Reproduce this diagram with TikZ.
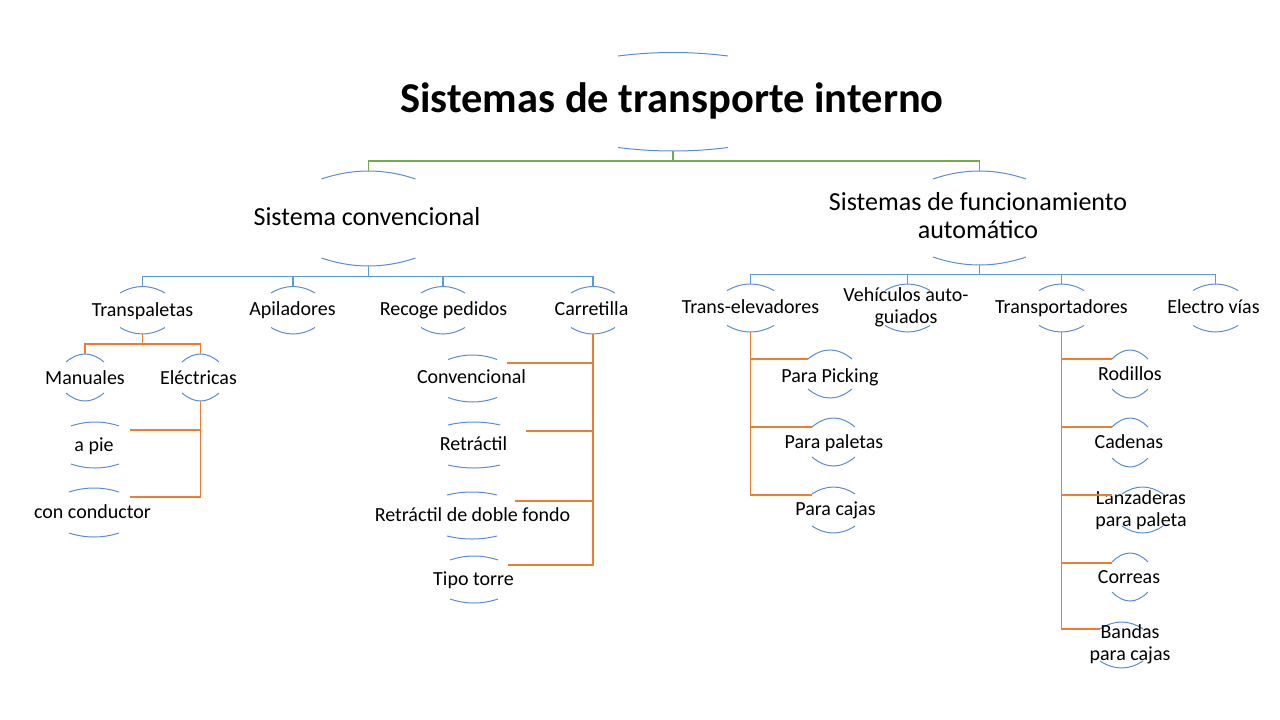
\documentclass[tikz,border=0pt]{standalone}
\usepackage{fontspec}
\setmainfont{Carlito}
\usepackage{tikz}
\usetikzlibrary{calc}
\definecolor{arcblue}{RGB}{91,140,210}
\definecolor{linkblue}{RGB}{91,155,213}
\definecolor{linkgreen}{RGB}{112,173,71}
\definecolor{linkorange}{RGB}{237,125,49}
\tikzset{
  ring/.style={arcblue, line width=1pt},
  lab/.style={inner sep=0pt, anchor=base, align=center, text=black},
  toplab/.style={lab, font=\fontsize{42.5}{50}\selectfont\bfseries},
  sublab/.style={lab, font=\fontsize{26}{28}\selectfont},
  itemlab/.style={lab, font=\fontsize{20}{22}\selectfont},
  greenlink/.style={linkgreen, line width=1.2pt},
  bluelink/.style={linkblue, line width=1.2pt},
  orangelink/.style={linkorange, line width=1.2pt},
}
% top and bottom arcs of one item: name, x, top y, bottom y, half width, sag
\newcommand{\ringarcs}[6]{%
  \coordinate (#1-t) at (#2,#3);
  \coordinate (#1-b) at (#2,#4);
  \draw[ring] ($(#1-t)+(-#5,#6)$) .. controls +({2*#5/3},{-4*#6/3}) and +({-2*#5/3},{-4*#6/3}) .. ($(#1-t)+(#5,#6)$);
  \draw[ring] ($(#1-b)+(-#5,-#6)$) .. controls +({2*#5/3},{4*#6/3}) and +({-2*#5/3},{4*#6/3}) .. ($(#1-b)+(#5,-#6)$);
}

\begin{document}
\begin{tikzpicture}[x=1pt, y=-1pt]
  \useasboundingbox[fill=white] (0,0) rectangle (1280,720);

  % ===== root =====
  \ringarcs{root}{673}{52.5}{151}{55}{3.5}
  \node[toplab] (root) at (672,112) {Sistemas de transporte interno};

  % ===== level 1 =====
  \ringarcs{conv}{368.5}{171}{266}{47}{8}
  \node[sublab] (conv) at (367,225) {Sistema convencional};
  \ringarcs{auto}{979.5}{171}{265}{46.5}{8}
  \node[sublab] (auto) at (978,238) {Sistemas de funcionamiento\\automático};

  \draw[greenlink] (root-b) -- ++(0,10) -| (conv-t);
  \draw[greenlink] (root-b) -- ++(0,10) -| (auto-t);

  % ===== level 2: convencional =====
  \ringarcs{transp}{142.5}{286.5}{334}{22.5}{6.5}
  \node[itemlab] (transp) at (142.5,316) {Transpaletas};
  \ringarcs{apil}{293}{286.5}{334}{22}{6.5}
  \node[itemlab] (apil) at (292.5,315) {Apiladores};
  \ringarcs{recoge}{443}{286.5}{334}{22}{6.5}
  \node[itemlab] (recoge) at (443.5,315) {Recoge pedidos};
  \ringarcs{carret}{593}{286.5}{334}{22}{6.5}
  \node[itemlab] (carret) at (591.5,315) {Carretilla};

  \foreach \kid in {transp,apil,recoge,carret}
    \draw[bluelink] (conv-b) -- ++(0,10.5) -| (\kid-t);

  % ===== level 2: automatico =====
  \ringarcs{transel}{750.5}{284}{332}{23.5}{6.5}
  \node[itemlab] (transel) at (750.5,313) {Trans-elevadores};
  \ringarcs{vehic}{907.5}{284}{332}{22.5}{6.5}
  \node[itemlab] (vehic) at (906,323) {Vehículos auto-\\guiados};
  \ringarcs{transpo}{1061.5}{284}{332}{22.5}{6.5}
  \node[itemlab] (transpo) at (1061.5,313) {Transportadores};
  \ringarcs{electro}{1215.5}{284}{332}{22.5}{6.5}
  \node[itemlab] (electro) at (1213.5,313) {Electro vías};

  \foreach \kid in {transel,vehic,transpo,electro}
    \draw[bluelink] (auto-b) -- ++(0,9.5) -| (\kid-t);

  % ===== transpaletas =====
  \ringarcs{manual}{85}{354}{401}{19}{8}
  \node[itemlab] (manual) at (85,384) {Manuales};
  \ringarcs{electr}{200.5}{354}{401}{18.5}{8}
  \node[itemlab] (electr) at (198.5,384) {Eléctricas};
  \draw[orangelink] (transp-b) -- ++(0,10) -| (manual-t);
  \draw[orangelink] (transp-b) -- ++(0,10) -| (electr-t);

  \ringarcs{apie}{95}{422}{468}{24}{4}
  \node[itemlab] (apie) at (94,451) {a pie};
  \ringarcs{cond}{94}{488}{537}{25}{4}
  \node[itemlab] (cond) at (92.5,518) {con conductor};
  \coordinate (apie-e) at (130,430);
  \coordinate (cond-e) at (130,497);
  \draw[orangelink] (electr-b) |- (apie-e);
  \draw[orangelink] (electr-b) |- (cond-e);

  % ===== carretilla =====
  \ringarcs{cconv}{472.5}{355}{402}{24.5}{4.5}
  \node[itemlab] (cconv) at (471.5,383) {Convencional};
  \ringarcs{retr}{474}{422}{468}{26}{3}
  \node[itemlab] (retr) at (473.5,450) {Retráctil};
  \ringarcs{doble}{472}{492}{539}{25}{3}
  \node[itemlab] (doble) at (472.5,521) {Retráctil de doble fondo};
  \ringarcs{torre}{474}{556}{603}{24}{4}
  \node[itemlab] (torre) at (473.5,585) {Tipo torre};
  \coordinate (cconv-e) at (507,363);
  \coordinate (retr-e) at (526,431);
  \coordinate (doble-e) at (515,501);
  \coordinate (torre-e) at (508,565);
  \foreach \kid in {cconv,retr,doble,torre}
    \draw[orangelink] (carret-b) |- (\kid-e);

  % ===== trans-elevadores =====
  \ringarcs{pick}{830}{350}{398}{22}{9}
  \node[itemlab] (pick) at (830,382) {Para Picking};
  \ringarcs{palet}{833.5}{418}{466}{21.5}{9}
  \node[itemlab] (palet) at (834,448) {Para paletas};
  \ringarcs{cajas}{833.5}{487}{533}{21.5}{7}
  \node[itemlab] (cajas) at (835.5,515) {Para cajas};
  \coordinate (pick-w) at (808,359);
  \coordinate (palet-w) at (812,427);
  \coordinate (cajas-w) at (812,495);
  \foreach \kid in {pick,palet,cajas}
    \draw[orangelink] (transel-b) |- (\kid-w);

  % ===== transportadores =====
  \ringarcs{rod}{1130}{350}{398}{18}{9}
  \node[itemlab] (rod) at (1130,380) {Rodillos};
  \ringarcs{cad}{1130}{418}{467}{18}{9}
  \node[itemlab] (cad) at (1129,448) {Cadenas};
  \ringarcs{lanz}{1142.5}{487}{533}{20.5}{7}
  \node[itemlab] (lanz) at (1141,526) {Lanzaderas\\para paleta};
  \ringarcs{corr}{1130}{553}{601}{18}{9}
  \node[itemlab] (corr) at (1129,583) {Correas};
  \ringarcs{band}{1121.5}{622}{668}{21.5}{7}
  \node[itemlab] (band) at (1130,660) {Bandas\\para cajas};
  \coordinate (rod-w) at (1112,359);
  \coordinate (cad-w) at (1112,427);
  \coordinate (lanz-w) at (1112,495);
  \coordinate (corr-w) at (1112,563);
  \coordinate (band-w) at (1100,629);
  \foreach \kid in {rod,cad,lanz,corr,band}
    \draw[orangelink] (transpo-b) |- (\kid-w);
\end{tikzpicture}
\end{document}
